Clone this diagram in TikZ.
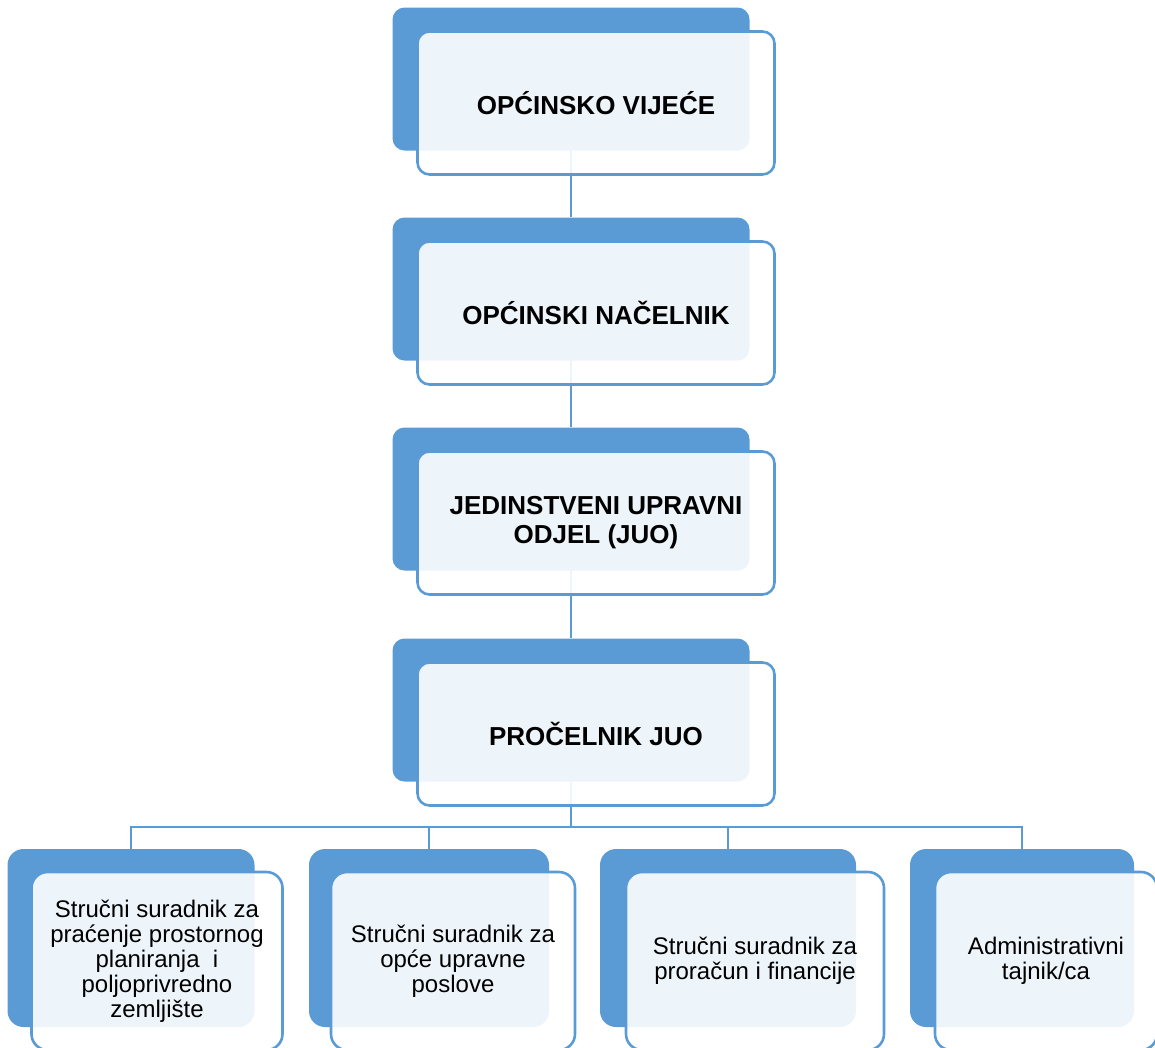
\documentclass[tikz,border=0pt]{standalone}
\usepackage{fontspec}
\setmainfont{Liberation Sans}
\definecolor{boxblue}{HTML}{5B9BD5}
\begin{document}
\begin{tikzpicture}[x=1pt,y=-1pt,
    back/.style={fill=boxblue, rounded corners=12pt, minimum width=357pt, minimum height=143pt, inner sep=0pt},
    front/.style={draw=boxblue, line width=2.6pt, fill=white, fill opacity=0.9, text opacity=1,
      rounded corners=12pt, minimum width=357pt, minimum height=143pt, inner sep=0pt,
      align=center, font=\fontsize{26}{29}\selectfont\bfseries},
    smallback/.style={back, rounded corners=16pt, minimum height=178pt},
    smallfront/.style={front, rounded corners=16pt, minimum height=178pt, font=\fontsize{24}{25}\selectfont},
    link/.style={draw=boxblue, line width=2.6pt}]
  \useasboundingbox (0,0) rectangle (1155,1047);
  % back cards
  \node[back] (b1) at (571,79) {};
  \node[back] (b2) at (571,289) {};
  \node[back] (b3) at (571,499) {};
  \node[back] (b4) at (571,710) {};
  \node[smallback, minimum width=247pt] (bA) at (131,938) {};
  \node[smallback, minimum width=240pt] (bB) at (429,938) {};
  \node[smallback, minimum width=256pt] (bC) at (728,938) {};
  \node[smallback, minimum width=224pt] (bD) at (1022,938) {};
  % links
  \draw[link] (b1.south) -- (b2.north);
  \draw[link] (b2.south) -- (b3.north);
  \draw[link] (b3.south) -- (b4.north);
  \coordinate (bus) at (571,827);
  \draw[link] (b4.south) -- (bus);
  \foreach \n in {bA,bB,bC,bD}
    \draw[link] (bus) -| (\n.north);
  % front cards
  \node[front] (f1) at (596,103) {OPĆINSKO VIJEĆE};
  \node[front] (f2) at (596,313) {OPĆINSKI NAČELNIK};
  \node[front] (f3) at (596,523) {JEDINSTVENI UPRAVNI\\ODJEL (JUO)};
  \node[front] (f4) at (596,734) {PROČELNIK JUO};
  \node[smallfront, minimum width=251pt] (fA) at (157,961) {Stručni suradnik za\\praćenje prostornog\\planiranja~ i\\poljoprivredno\\zemljište};
  \node[smallfront, minimum width=244pt] (fB) at (453,961) {Stručni suradnik za\\opće upravne\\poslove};
  \node[smallfront, minimum width=258pt] (fC) at (755,961) {Stručni suradnik za\\proračun i financije};
  \node[smallfront, minimum width=222pt] (fD) at (1046,961) {Administrativni\\tajnik/ca};
\end{tikzpicture}
\end{document}
